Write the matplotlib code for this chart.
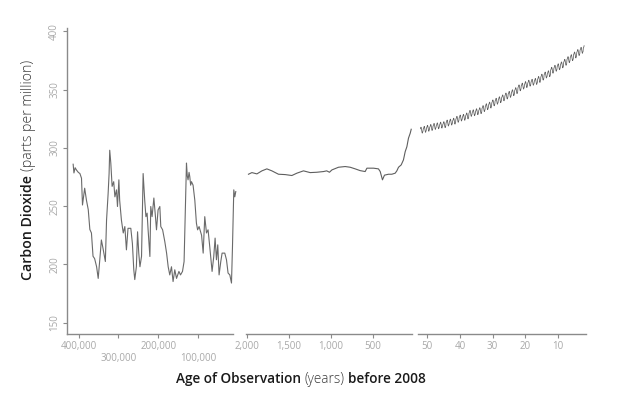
import numpy as np
import matplotlib
matplotlib.use("Agg")
import matplotlib.pyplot as plt
from matplotlib.transforms import IdentityTransform

# ---------------- data ----------------
# Vostok ice core (thousand years before present, ppm)
vostok_age_kyr = [414, 412, 409, 405.6, 401, 397, 393, 390.5, 385, 380.5, 376, 372, 368, 364, 360,
                  355, 351, 347, 343, 339, 333, 330, 326, 323.6, 322, 319.3, 316, 312, 309, 305,
                  302.5, 299, 297, 292.6, 288, 284, 280, 276, 269, 265, 261.5, 259, 255, 252,
                  249, 246, 242, 238, 234, 231, 228, 225.5, 221, 218.8, 215.5, 211, 207, 204.4,
                  200.4, 196, 193.6, 189, 183.5, 179, 175, 171, 166.7, 162.7, 158.4, 154, 148,
                  144, 139, 135, 129, 127, 125, 122.5, 120.7, 118.5, 116.4, 112.4, 108, 104, 101,
                  97.3, 91, 87, 83, 78.7, 74.7, 70.4, 64.6, 60.4, 57, 53.6, 50.3, 47, 42.7, 39.4,
                  32.7, 28.4, 24.4, 20, 15.8, 13.3, 10, 7.5, 5]
vostok_co2 = [286, 278.5, 283, 281, 279, 278, 274, 251, 265.4, 255, 247, 230, 227, 207, 205,
              198, 188, 204, 221, 214, 202.5, 238, 261, 278, 298, 287, 267, 271, 258, 264,
              249.7, 272.6, 255, 238, 227, 232.5, 212.5, 231, 231, 218, 195.4, 187, 198, 228,
              209.7, 198, 207, 278, 255, 241, 244, 229.7, 206.8, 249.7, 241, 257, 241, 229.7,
              246.8, 249.7, 232.5, 229.7, 219.6, 209.7, 198, 191, 198, 185.3, 195.4, 188, 194,
              191, 194, 202.5, 287, 276, 272.6, 279, 275.4, 268, 271, 268, 255, 235.4, 229.7,
              232.5, 225, 209.7, 241, 227, 229.7, 215, 194, 206.8, 222.6, 204, 216.8, 191, 202.5, 209.7,
              209.7, 204, 192.6, 191, 184, 215, 264, 258, 262.5]

# Law Dome ice core (years before 2008, ppm)
lawdome_age = [1986, 1945, 1885, 1825, 1766, 1706, 1627, 1547, 1467, 1407, 1328, 1248, 1168, 1089,
               1050, 1017, 988, 909, 829, 769, 709, 650, 590, 569, 490, 431, 410, 383, 359, 311,
               271, 231, 211, 191, 159, 132, 111, 91, 72, 51, 39]
lawdome_co2 = [277.4, 278.8, 277.7, 280.3, 282, 280.3, 277.4, 277.1, 276.3, 278.3, 280.3, 278.8,
               279.1, 279.7, 280.3, 279.1, 281.1, 283.4, 284, 283.4, 282, 280.5, 279.7, 282.6,
               282.6, 282, 279.7, 272.6, 276.6, 277.4, 277.4, 278.3, 280.3, 283.4, 285.4, 289.7,
               296.8, 301, 308.3, 312.6, 316]

# Mauna Loa: annual means and mean seasonal cycle (ppm)
mlo_years = list(range(1958, 2009))
mlo_annual = [315.3, 316.0, 316.9, 317.6, 318.5, 319.0, 319.6, 320.0, 321.4, 322.2, 323.0, 324.6,
              325.7, 326.3, 327.5, 329.7, 330.2, 331.1, 332.0, 333.8, 335.4, 336.8, 338.7, 340.1,
              341.4, 343.0, 344.6, 346.0, 347.4, 349.2, 351.6, 353.1, 354.4, 355.6, 356.4, 357.1,
              358.8, 360.8, 362.6, 363.7, 366.7, 368.4, 369.7, 371.3, 373.5, 375.8, 377.5, 379.8,
              381.9, 383.8, 385.6]
mlo_seasonal = [0.0, 0.5, 1.1, 2.1, 2.5, 1.9, 0.6, -1.0, -2.4, -2.6, -1.6, -1.2]
mlo_age_ref = 2010.3  # reference year used by the chart's x positions

# ---------------- build series ----------------
v_age = np.array(vostok_age_kyr) * 1000.0
v_co2 = np.array(vostok_co2)

m_t, m_v = [], []
for yr, ann in zip(mlo_years, mlo_annual):
    for mi, s in enumerate(mlo_seasonal):
        if yr == 1958 and mi < 2:
            continue
        if yr == 2008 and mi > 3:
            continue
        m_t.append(yr + (mi + 0.5) / 12.0)
        m_v.append(ann + s)
m_age = mlo_age_ref - np.array(m_t)
m_v = np.array(m_v)

# ---------------- style ----------------
FONT = ["Open Sans", "DejaVu Sans"]
plt.rcParams["font.family"] = FONT
LINE = "#6a6a6a"
SPINE = "#8a8a8a"
TICKLAB = "#a8a8a8"
YLIM = (140.3, 402.9)

fig = plt.figure(figsize=(6.2, 3.96), dpi=100)
bottom, height = 0.1566, 0.7727
ax1 = fig.add_axes([0.1081, bottom, 0.2677, height])
ax2 = fig.add_axes([0.3963, bottom, 0.2677, height])
ax3 = fig.add_axes([0.6747, bottom, 0.2700, height])

for ax in (ax1, ax2, ax3):
    ax.set_ylim(*YLIM)
    for s in ("top", "right"):
        ax.spines[s].set_visible(False)
    ax.spines["bottom"].set_color(SPINE)
    ax.spines["bottom"].set_linewidth(1.0)
    ax.tick_params(axis="x", which="both", colors=SPINE, labelcolor=TICKLAB,
                   length=3, width=0.8, labelsize=7, pad=2)
    ax.patch.set_alpha(0)

for ax in (ax2, ax3):
    ax.spines["left"].set_visible(False)
    ax.set_yticks([])

ax1.spines["left"].set_color(SPINE)
ax1.spines["left"].set_linewidth(1.0)
ax1.set_yticks([150, 200, 250, 300, 350, 400])
ax1.set_yticklabels(["150", "200", "250", "300", "350", "400"], rotation=90, va="center")
ax1.tick_params(axis="y", colors=SPINE, labelcolor=TICKLAB, length=3, width=0.8,
                labelsize=7, pad=2)

# panel 1
ax1.plot(v_age, v_co2, color=LINE, lw=0.8, clip_on=False)
ax1.set_xlim(429400, 12000)
ax1.set_xticks([400000, 200000])
ax1.set_xticklabels(["400,000", "200,000"])
ax1.set_xticks([300000, 100000], minor=True)
ax1.set_xticklabels(["300,000", "100,000"], minor=True)
ax1.tick_params(axis="x", which="minor", pad=11)

# panel 2
ax2.plot(lawdome_age, lawdome_co2, color="#5e5e5e", lw=0.8, clip_on=False)
ax2.set_xlim(2019, 33.5)
ax2.set_xticks([2000, 1500, 1000, 500])
ax2.set_xticklabels(["2,000", "1,500", "1,000", "500"])

# panel 3
ax3.plot(m_age, m_v, color="#5e5e5e", lw=0.55, clip_on=False)
ax3.set_xlim(52.75, 1.52)
ax3.set_xticks([50, 40, 30, 20, 10])
ax3.set_xticklabels(["50", "40", "30", "20", "10"])

# ---------------- mixed-style axis titles ----------------
renderer = fig.canvas.get_renderer()
H = 396

def rich(pieces, x, y, rotation=0, center=True, size=9.5):
    ts = []
    for s, col, wt in pieces:
        t = fig.text(0, 0, s, transform=IdentityTransform(), rotation=rotation,
                     rotation_mode="anchor", ha="left", va="baseline",
                     fontsize=size, color=col, fontweight=wt, family=FONT)
        ts.append(t)
    widths = []
    for t in ts:
        bb = t.get_window_extent(renderer)
        widths.append(bb.width if rotation == 0 else bb.height)
    space = size * 100 / 72 * 0.26
    total = sum(widths) + space * (len(ts) - 1)
    pos = -total / 2 if center else 0
    for t, w in zip(ts, widths):
        if rotation == 0:
            t.set_position((x + pos, y))
        else:
            t.set_position((x, y + pos))
        pos += w + space

DARK = "#1a1a1a"
MID = "#3a3a3a"
rich([("Age of Observation", DARK, "semibold"), ("(years)", MID, "light"),
      ("before 2008", DARK, "semibold")], 301, H - 383, size=9.8)
rich([("Carbon Dioxide", DARK, "semibold"), ("(parts per million)", MID, "light")],
     31.5, H - 170, rotation=90, size=10.2)

fig.savefig("out.png", dpi=100)
